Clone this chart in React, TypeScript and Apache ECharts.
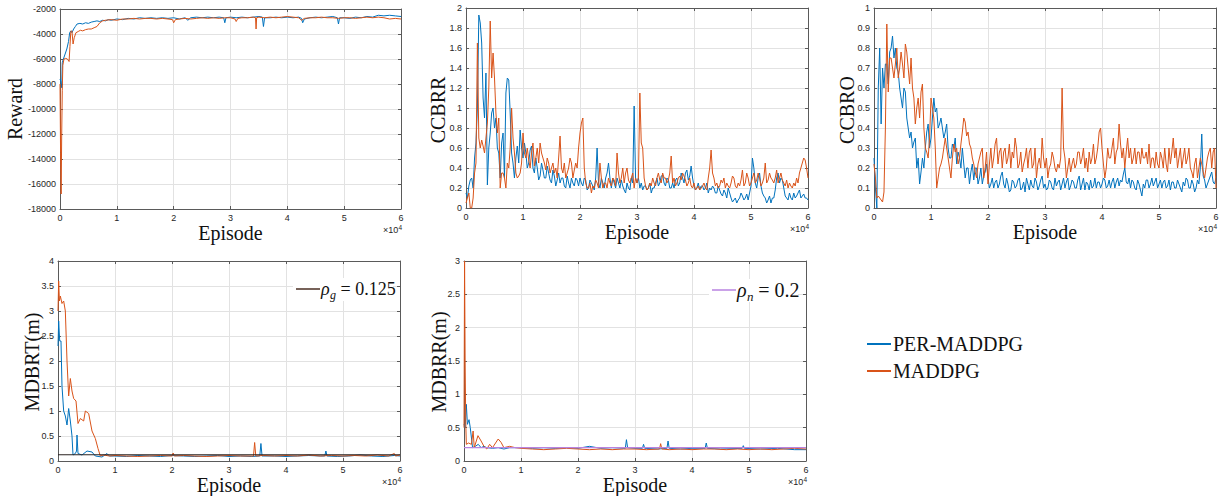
import React, { useEffect, useRef } from 'react';
import * as echarts from 'echarts';

const BLUE = '#0072BD';
const ORANGE = '#D95319';
const AXIS = '#5a5a5a';
const GRIDC = '#e2e2e2';
const STEP = 500; // episodes between samples of the uniform series (mid arrays sit half a step later)

const xTicks = [0, 10000, 20000, 30000, 40000, 50000, 60000];
const rewardTicks = [-18000, -16000, -14000, -12000, -10000, -8000, -6000, -4000, -2000];
const ccbrrTicks = [0, 0.2, 0.4, 0.6, 0.8, 1, 1.2, 1.4, 1.6, 1.8, 2];
const ccbroTicks = [0, 0.1, 0.2, 0.3, 0.4, 0.5, 0.6, 0.7, 0.8, 0.9, 1];
const mdbrtTicks = [0, 0.5, 1, 1.5, 2, 2.5, 3, 3.5, 4];
const mdbrrTicks = [0, 0.5, 1, 1.5, 2, 2.5, 3];

const rhoG = 0.125;
const rhoN = 0.2;

// Reward: [episode, value]
const rewardPer = [
  [0, -7600], [150, -7800], [300, -8300], [400, -6300], [600, -6000], [900, -5600], [1200, -5200], [1500, -4600],
  [1700, -3900], [1900, -3750], [2100, -3900], [2400, -3600], [2700, -3400], [3000, -3200], [3500, -3150], [4000, -3200],
  [4500, -3100], [5000, -3150], [5500, -3050], [6000, -3000], [6500, -2950], [7000, -3000], [7500, -2900], [8000, -2950],
  [8500, -2850], [9000, -2900], [9500, -2850], [10000, -2800], [11000, -2850], [12000, -2750], [13000, -2800], [14000, -2700],
  [15000, -2750], [16000, -2700], [17000, -2750], [18000, -2700], [19000, -2750], [20000, -2700], [21000, -2800], [22000, -2700],
  [22500, -2900], [23000, -2700], [24000, -2650], [25000, -2700], [26000, -2650], [27000, -2700], [28000, -2650], [28800, -2700],
  [29000, -3100], [29200, -2700], [30000, -2650], [31000, -2700], [32000, -2650], [33000, -2700], [34000, -2650], [35000, -2600],
  [35600, -2650], [35800, -3400], [36000, -2700], [37000, -2700], [38000, -2650], [39000, -2700], [40000, -2650], [41000, -2700],
  [42000, -2650], [42500, -2750], [42700, -3100], [43000, -2800], [44000, -2700], [45000, -2650], [46000, -2700], [47000, -2650],
  [48000, -2600], [48800, -2700], [49000, -3200], [49200, -2700], [50000, -2700], [51000, -2750], [52000, -2650], [53000, -2700],
  [54000, -2600], [55000, -2650], [56000, -2500], [57000, -2550], [58000, -2500], [59000, -2550], [60000, -2600],
];
const rewardMad = [
  [0, -8000], [100, -13500], [200, -16800], [300, -12000], [400, -8500], [500, -6500], [700, -6000], [1000, -5950],
  [1300, -6000], [1600, -6200], [1750, -5000], [1900, -3800], [2100, -3750], [2300, -4800], [2500, -4300], [2800, -3900],
  [3200, -3800], [3600, -3700], [4000, -3750], [4500, -3650], [5000, -3600], [5500, -3600], [6000, -3500], [6500, -3400],
  [7000, -3100], [7500, -2950], [8000, -2900], [9000, -2850], [10000, -2900], [11000, -2800], [12000, -2800], [13000, -2750],
  [14000, -2800], [15000, -2750], [16000, -2750], [17000, -2800], [18000, -2750], [19000, -2800], [19800, -2850], [20000, -3100],
  [20300, -2850], [21000, -2800], [22000, -2750], [23000, -2800], [24000, -2750], [25000, -2700], [26000, -2750], [27000, -2700],
  [28000, -2750], [29000, -2700], [30000, -2700], [30800, -2800], [31000, -3000], [31300, -2750], [32000, -2700], [33000, -2700],
  [34000, -2650], [34400, -2700], [34500, -3600], [34600, -2700], [35000, -2650], [36000, -2700], [37000, -2650], [38000, -2700],
  [39000, -2650], [40000, -2600], [41000, -2650], [42000, -2700], [42500, -2900], [43000, -2750], [44000, -2700], [45000, -2700],
  [46000, -2650], [47000, -2700], [48000, -2700], [49000, -2750], [50000, -2700], [51000, -2700], [52000, -2750], [53000, -2700],
  [54000, -2650], [55000, -2700], [56000, -2650], [57000, -2700], [58000, -2800], [59000, -2750], [60000, -2800],
];

// CCBRR, one value every STEP episodes, and the values half a step later
const ccbrrPer = [
  0.15, 0.22, 0.3, 0.5, 1.0, 1.85, 1.1, 1.35, 0.6, 0.95,
  0.8, 0.6, 0.3, 0.75, 1.15, 1.28, 0.55, 0.3, 0.62, 0.78,
  0.5, 0.55, 0.45, 0.62, 0.35, 0.4, 0.32, 0.38, 0.3, 0.35,
  0.25, 0.32, 0.28, 0.25, 0.3, 0.2, 0.25, 0.3, 0.22, 0.28,
  0.3, 0.22, 0.28, 0.2, 0.25, 0.18, 0.6, 0.2, 0.25, 0.3,
  0.45, 0.2, 0.25, 0.3, 0.2, 0.22, 0.15, 0.2, 0.3, 1.02,
  0.25, 0.2, 0.18, 0.22, 0.2, 0.15, 0.2, 0.3, 0.25, 0.33,
  0.22, 0.28, 0.2, 0.2, 0.3, 0.25, 0.3, 0.35, 0.28, 0.42,
  0.22, 0.2, 0.18, 0.22, 0.2, 0.15, 0.18, 0.2, 0.15, 0.18,
  0.12, 0.15, 0.2, 0.1, 0.08, 0.05, 0.1, 0.12, 0.1, 0.08,
  0.22, 0.4, 0.2, 0.35, 0.15, 0.1, 0.08, 0.05, 0.1, 0.3,
  0.25, 0.28, 0.12, 0.08, 0.1, 0.15, 0.12, 0.18, 0.12, 0.1,
  0.08,
];
const ccbrrPerMid = [
  0.1, 0.28, 0.2, 0.65, 1.93, 1.65, 0.9, 0.23, 0.75, 1.0,
  0.9, 0.55, 0.65, 0.3, 1.3, 0.95, 0.45, 0.5, 0.45, 0.6,
  0.65, 0.4, 0.58, 0.4, 0.5, 0.28, 0.45, 0.3, 0.42, 0.28,
  0.38, 0.22, 0.35, 0.3, 0.22, 0.32, 0.2, 0.25, 0.3, 0.22,
  0.25, 0.3, 0.18, 0.28, 0.22, 0.3, 0.25, 0.3, 0.2, 0.35,
  0.3, 0.3, 0.2, 0.25, 0.28, 0.18, 0.25, 0.18, 0.25, 0.3,
  0.3, 0.25, 0.22, 0.18, 0.25, 0.2, 0.25, 0.22, 0.32, 0.25,
  0.3, 0.2, 0.25, 0.28, 0.22, 0.35, 0.25, 0.38, 0.32, 0.3,
  0.18, 0.25, 0.22, 0.18, 0.25, 0.2, 0.22, 0.15, 0.22, 0.14,
  0.18, 0.1, 0.15, 0.06, 0.1, 0.08, 0.15, 0.08, 0.14, 0.15,
  0.5, 0.25, 0.3, 0.22, 0.12, 0.05, 0.12, 0.1, 0.18, 0.35,
  0.3, 0.2, 0.1, 0.15, 0.08, 0.1, 0.15, 0.1, 0.14, 0.1,
];
const ccbrrMad = [
  0.05, 0.15, 0.0, 0.35, 1.65, 0.6, 0.62, 0.7, 1.2, 1.3,
  1.3, 0.75, 0.2, 0.35, 0.2, 0.4, 1.0, 0.55, 0.3, 0.35,
  0.75, 0.5, 0.48, 0.55, 0.42, 0.6, 0.65, 0.5, 0.38, 0.45,
  0.4, 0.35, 0.3, 0.72, 0.35, 0.3, 0.4, 0.45, 0.38, 0.4,
  0.75, 0.9, 0.25, 0.2, 0.15, 0.2, 0.25, 0.45, 0.2, 0.25,
  0.3, 0.22, 0.28, 0.55, 0.25, 0.4, 0.35, 0.28, 0.3, 0.2,
  0.25, 1.15, 0.6, 0.22, 0.2, 0.22, 0.25, 0.3, 0.28, 0.35,
  0.3, 0.28, 0.52, 0.3, 0.25, 0.32, 0.35, 0.28, 0.25, 0.22,
  0.25, 0.2, 0.18, 0.22, 0.2, 0.3, 0.58, 0.3, 0.25, 0.22,
  0.25, 0.2, 0.22, 0.25, 0.3, 0.2, 0.22, 0.38, 0.25, 0.3,
  0.25, 0.35, 0.28, 0.3, 0.25, 0.45, 0.28, 0.3, 0.25, 0.38,
  0.3, 0.28, 0.22, 0.2, 0.22, 0.25, 0.3, 0.35, 0.45, 0.48,
  0.3,
];
const ccbrrMadMid = [
  0.1, 0.0, 0.1, 0.45, 0.7, 0.68, 0.55, 0.85, 1.87, 1.55,
  0.95, 0.9, 0.35, 0.3, 0.45, 0.6, 0.7, 0.35, 0.32, 0.45,
  0.55, 0.6, 0.4, 0.65, 0.5, 0.45, 0.55, 0.45, 0.5, 0.35,
  0.45, 0.4, 0.5, 0.4, 0.45, 0.35, 0.5, 0.3, 0.45, 0.6,
  0.85, 0.4, 0.2, 0.25, 0.22, 0.28, 0.2, 0.3, 0.25, 0.2,
  0.25, 0.3, 0.22, 0.35, 0.3, 0.25, 0.4, 0.25, 0.35, 0.3,
  0.3, 0.65, 0.3, 0.18, 0.25, 0.3, 0.22, 0.35, 0.25, 0.3,
  0.25, 0.35, 0.25, 0.22, 0.3, 0.28, 0.32, 0.22, 0.3, 0.2,
  0.18, 0.22, 0.2, 0.25, 0.18, 0.4, 0.35, 0.22, 0.2, 0.28,
  0.3, 0.25, 0.2, 0.32, 0.22, 0.25, 0.28, 0.22, 0.35, 0.22,
  0.3, 0.25, 0.35, 0.22, 0.3, 0.25, 0.35, 0.28, 0.3, 0.25,
  0.35, 0.25, 0.28, 0.25, 0.2, 0.22, 0.25, 0.4, 0.5, 0.4,
];

// CCBRO, one value every STEP episodes, and the values half a step later
const ccbroPer = [
  0.25, 0.0, 0.8, 0.7, 0.72, 0.62, 0.8, 0.75, 0.7, 0.6,
  0.5, 0.58, 0.4, 0.38, 0.33, 0.2, 0.12, 0.25, 0.3, 0.42,
  0.35, 0.55, 0.5, 0.42, 0.4, 0.38, 0.3, 0.25, 0.3, 0.22,
  0.25, 0.3, 0.15, 0.2, 0.18, 0.14, 0.2, 0.15, 0.12, 0.18,
  0.15, 0.12, 0.1, 0.14, 0.12, 0.18, 0.1, 0.12, 0.09, 0.13,
  0.11, 0.15, 0.1, 0.08, 0.12, 0.14, 0.1, 0.13, 0.11, 0.16,
  0.12, 0.1, 0.13, 0.09, 0.11, 0.14, 0.12, 0.1, 0.15, 0.11,
  0.13, 0.1, 0.16, 0.12, 0.09, 0.12, 0.14, 0.11, 0.1, 0.13,
  0.12, 0.14, 0.11, 0.1, 0.15, 0.13, 0.11, 0.13, 0.2, 0.12,
  0.1, 0.13, 0.09, 0.12, 0.06, 0.1, 0.14, 0.12, 0.11, 0.15,
  0.12, 0.1, 0.14, 0.11, 0.09, 0.13, 0.1, 0.12, 0.08, 0.11,
  0.14, 0.1, 0.12, 0.1, 0.12, 0.37, 0.14, 0.12, 0.16, 0.13,
  0.15,
];
const ccbroPerMid = [
  0.1, 0.6, 0.42, 0.6, 0.72, 0.78, 0.86, 0.8, 0.68, 0.55,
  0.6, 0.45, 0.35, 0.3, 0.35, 0.25, 0.18, 0.2, 0.38, 0.3,
  0.45, 0.48, 0.4, 0.45, 0.35, 0.42, 0.25, 0.32, 0.35, 0.28,
  0.2, 0.22, 0.2, 0.12, 0.22, 0.2, 0.12, 0.2, 0.16, 0.22,
  0.1, 0.15, 0.13, 0.1, 0.16, 0.12, 0.15, 0.08, 0.14, 0.1,
  0.14, 0.09, 0.13, 0.15, 0.09, 0.11, 0.15, 0.09, 0.14, 0.1,
  0.09, 0.14, 0.1, 0.15, 0.13, 0.09, 0.15, 0.13, 0.09, 0.14,
  0.1, 0.14, 0.09, 0.15, 0.13, 0.09, 0.1, 0.15, 0.13, 0.1,
  0.15, 0.1, 0.14, 0.13, 0.1, 0.15, 0.14, 0.17, 0.13, 0.15,
  0.14, 0.1, 0.14, 0.09, 0.12, 0.14, 0.1, 0.15, 0.13, 0.1,
  0.14, 0.13, 0.1, 0.14, 0.13, 0.1, 0.14, 0.1, 0.13, 0.15,
  0.1, 0.14, 0.08, 0.14, 0.2, 0.16, 0.1, 0.14, 0.18, 0.12,
];
const ccbroMad = [
  0.22, 0.05, 0.05, 0.03, 0.4, 0.58, 0.75, 0.65, 0.8, 0.7,
  0.72, 0.82, 0.7, 0.75, 0.55, 0.5, 0.45, 0.62, 0.3, 0.25,
  0.55, 0.45, 0.1, 0.2, 0.25, 0.35, 0.25, 0.15, 0.32, 0.3,
  0.25, 0.38, 0.43, 0.38, 0.3, 0.22, 0.15, 0.25, 0.3, 0.2,
  0.12, 0.3, 0.25, 0.35, 0.28, 0.2, 0.3, 0.25, 0.2, 0.25,
  0.3, 0.22, 0.18, 0.25, 0.2, 0.3, 0.22, 0.15, 0.25, 0.35,
  0.2, 0.15, 0.22, 0.25, 0.18, 0.2, 0.6, 0.25, 0.2, 0.18,
  0.25, 0.22, 0.28, 0.25, 0.2, 0.18, 0.22, 0.32, 0.25, 0.38,
  0.3, 0.15, 0.3, 0.25, 0.35, 0.28, 0.42, 0.25, 0.2, 0.35,
  0.3, 0.25, 0.22, 0.28, 0.3, 0.25, 0.22, 0.2, 0.25, 0.28,
  0.2, 0.25, 0.3, 0.18, 0.22, 0.35, 0.3, 0.25, 0.2, 0.3,
  0.25, 0.2, 0.15, 0.25, 0.2, 0.22, 0.15, 0.25, 0.3, 0.28,
  0.1,
];
const ccbroMadMid = [
  0.15, 0.06, 0.04, 0.08, 0.92, 0.75, 0.7, 0.72, 0.65, 0.78,
  0.65, 0.78, 0.62, 0.6, 0.42, 0.55, 0.58, 0.4, 0.28, 0.35,
  0.5, 0.3, 0.15, 0.22, 0.3, 0.3, 0.2, 0.25, 0.28, 0.22,
  0.32, 0.45, 0.36, 0.32, 0.25, 0.18, 0.22, 0.28, 0.15, 0.28,
  0.22, 0.2, 0.32, 0.22, 0.3, 0.28, 0.22, 0.32, 0.28, 0.35,
  0.2, 0.28, 0.22, 0.3, 0.28, 0.2, 0.3, 0.22, 0.2, 0.25,
  0.25, 0.2, 0.28, 0.2, 0.22, 0.25, 0.3, 0.15, 0.25, 0.22,
  0.2, 0.28, 0.22, 0.3, 0.25, 0.28, 0.25, 0.22, 0.3, 0.4,
  0.22, 0.2, 0.25, 0.3, 0.22, 0.3, 0.32, 0.3, 0.28, 0.25,
  0.22, 0.3, 0.28, 0.22, 0.25, 0.28, 0.32, 0.25, 0.2, 0.22,
  0.28, 0.2, 0.22, 0.3, 0.28, 0.25, 0.2, 0.3, 0.25, 0.22,
  0.3, 0.18, 0.22, 0.15, 0.25, 0.18, 0.2, 0.28, 0.2, 0.3,
];

// MDBRT: [episode, value]
const mdbrtPer = [
  [0, 2.3], [120, 2.8], [300, 2.4], [526, 2.4], [700, 1.5], [994, 1.0], [1287, 0.9], [1579, 0.72],
  [1871, 1.05], [2164, 0.8], [2456, 0.5], [2632, 0.12], [3041, 0.15], [3250, 0.2], [3333, 0.52], [3509, 0.15],
  [4210, 0.12], [5088, 0.2], [5965, 0.18], [6550, 0.1], [7719, 0.08], [8596, 0.15], [9000, 0.1], [10000, 0.1],
  [12000, 0.09], [14000, 0.11], [16000, 0.1], [18000, 0.09], [20000, 0.11], [22000, 0.1], [24000, 0.09], [26000, 0.1],
  [28000, 0.11], [30000, 0.09], [32000, 0.1], [34000, 0.09], [35400, 0.1], [35600, 0.35], [35800, 0.1], [38000, 0.1],
  [40000, 0.09], [42000, 0.1], [44000, 0.11], [46000, 0.1], [46800, 0.1], [47000, 0.2], [47200, 0.1], [49000, 0.09],
  [51000, 0.1], [53000, 0.12], [55000, 0.1], [57000, 0.09], [59000, 0.11], [60000, 0.1],
];
const mdbrtMad = [
  [0, 3.0], [117, 3.6], [250, 3.2], [409, 3.3], [700, 3.15], [994, 3.2], [1287, 3.0], [1579, 2.0],
  [1871, 1.3], [2164, 1.65], [2456, 1.4], [2749, 1.25], [3158, 1.2], [3509, 0.75], [3918, 0.85], [4503, 0.8],
  [4795, 1.0], [5380, 0.95], [5965, 0.6], [6550, 0.45], [7018, 0.25], [7427, 0.1], [8000, 0.12], [9000, 0.1],
  [10000, 0.11], [12000, 0.1], [14000, 0.09], [16000, 0.1], [18000, 0.11], [20000, 0.1], [20200, 0.16], [20400, 0.1],
  [22000, 0.11], [24000, 0.1], [26000, 0.09], [28000, 0.1], [30000, 0.11], [32000, 0.1], [34300, 0.1], [34500, 0.37],
  [34700, 0.1], [36000, 0.11], [38000, 0.1], [40000, 0.11], [42000, 0.1], [44000, 0.12], [46000, 0.1], [48000, 0.11],
  [50000, 0.1], [52000, 0.11], [54000, 0.1], [56000, 0.12], [58000, 0.1], [59000, 0.15], [59200, 0.1], [60000, 0.12],
];

// MDBRR: [episode, value]
const mdbrrPer = [
  [0, 0.55], [200, 0.5], [409, 0.85], [600, 0.55], [880, 0.62], [1100, 0.5], [1500, 0.2], [2000, 0.22],
  [2500, 0.25], [3000, 0.2], [3500, 0.22], [4000, 0.2], [5000, 0.19], [6000, 0.2], [7000, 0.18], [8000, 0.2],
  [10000, 0.2], [12000, 0.19], [14000, 0.2], [16000, 0.19], [18000, 0.2], [20000, 0.19], [22000, 0.22], [24000, 0.19],
  [26000, 0.2], [28300, 0.19], [28500, 0.32], [28700, 0.2], [30000, 0.19], [31300, 0.19], [31500, 0.25], [31700, 0.19],
  [34000, 0.18], [35600, 0.19], [35800, 0.3], [36000, 0.19], [38000, 0.18], [40000, 0.19], [42300, 0.19], [42500, 0.27],
  [42700, 0.19], [45000, 0.18], [48800, 0.19], [49000, 0.23], [49200, 0.19], [52000, 0.18], [55000, 0.19], [58000, 0.17],
  [60000, 0.17],
];
const mdbrrMad = [
  [0, 0.5], [100, 3.0], [200, 1.5], [300, 0.6], [409, 0.25], [800, 0.27], [1300, 0.25], [1600, 0.45],
  [1800, 0.2], [2450, 0.38], [3000, 0.3], [3500, 0.22], [4000, 0.18], [4500, 0.25], [5000, 0.2], [6000, 0.33],
  [6500, 0.28], [7000, 0.2], [8000, 0.22], [9000, 0.2], [10000, 0.19], [12000, 0.18], [14000, 0.17], [16000, 0.18],
  [18000, 0.19], [20000, 0.18], [22000, 0.17], [24000, 0.18], [26000, 0.17], [28000, 0.18], [30000, 0.18], [32000, 0.17],
  [34300, 0.18], [34500, 0.26], [34700, 0.18], [36000, 0.17], [38000, 0.18], [40000, 0.17], [42000, 0.18], [44000, 0.18],
  [46000, 0.17], [48000, 0.18], [50000, 0.17], [52000, 0.18], [54000, 0.17], [56000, 0.18], [58000, 0.19], [60000, 0.18],
];

// pair each sample with its episode: main samples at i*STEP, mid samples at i*STEP + STEP/2
const interleave = (main: number[], mid: number[]) => {
  const out: number[][] = [];
  main.forEach((v, i) => {
    out.push([i * STEP, v]);
    if (i < mid.length) out.push([i * STEP + STEP / 2, mid[i]]);
  });
  return out;
};

const panels = [
  { box: { left: 60, top: 9, width: 341, height: 200 }, ticks: rewardTicks, per: rewardPer, mad: rewardMad, title: 'Reward', tx: 15, ty: 109 },
  { box: { left: 466, top: 8, width: 342, height: 200 }, ticks: ccbrrTicks, per: interleave(ccbrrPer, ccbrrPerMid), mad: interleave(ccbrrMad, ccbrrMadMid), title: 'CCBRR', tx: 438, ty: 110 },
  { box: { left: 874, top: 8, width: 342, height: 200 }, ticks: ccbroTicks, per: interleave(ccbroPer, ccbroPerMid), mad: interleave(ccbroMad, ccbroMadMid), title: 'CCBRO', tx: 847, ty: 110 },
  { box: { left: 58, top: 261, width: 342, height: 200 }, ticks: mdbrtTicks, per: mdbrtPer, mad: mdbrtMad, title: 'MDBRT(m)', tx: 32, ty: 362 },
  { box: { left: 464, top: 261, width: 342, height: 200 }, ticks: mdbrrTicks, per: mdbrrPer, mad: mdbrrMad, title: 'MDBRR(m)', tx: 439, ty: 362 },
];

const fmt = (v: number) => String(Math.round(v * 1000) / 1000);
const SERIF = '"Liberation Serif", "Times New Roman", serif';

function mathLegend(x: number, y: number, color: string, sub: string, value: number, size: number, boxW: number) {
  const rhoW = size * 0.5;
  const subW = size * 0.36;
  return [
    { type: 'rect', z: 50, shape: { x: x - 3, y: y - 11, width: boxW, height: 23 }, style: { fill: '#ffffff' } },
    { type: 'line', z: 51, shape: { x1: x, y1: y, x2: x + 24, y2: y }, style: { stroke: color, lineWidth: 1.5 } },
    { type: 'text', z: 51, x: x + 25, y, style: { text: 'ρ', font: `italic ${size}px ${SERIF}`, fill: '#111', align: 'left', verticalAlign: 'middle', lineHeight: size } },
    { type: 'text', z: 51, x: x + 25 + rhoW, y: y + size * 0.32, style: { text: sub, font: `italic ${Math.round(size * 0.66)}px ${SERIF}`, fill: '#111', align: 'left', verticalAlign: 'middle', lineHeight: Math.round(size * 0.66) } },
    { type: 'text', z: 51, x: x + 25 + rhoW + subW + 4, y, style: { text: `= ${value}`, font: `${size}px ${SERIF}`, fill: '#111', align: 'left', verticalAlign: 'middle', lineHeight: size } },
  ];
}

function buildOption() {
  const grid: any[] = [];
  const xAxis: any[] = [];
  const yAxis: any[] = [];
  const series: any[] = [];
  const graphic: any[] = [];
  const tickLabel = { fontSize: 9, fontFamily: 'Liberation Sans, Arial, sans-serif', color: '#262626', lineHeight: 10 };

  panels.forEach((p, i) => {
    grid.push({ ...p.box, containLabel: false });
    const xmin = xTicks[0];
    const xmax = xTicks[xTicks.length - 1];
    const xint = xTicks[1] - xTicks[0];
    const ymin = p.ticks[0];
    const ymax = p.ticks[p.ticks.length - 1];
    const yint = p.ticks[1] - p.ticks[0];
    const line = { show: true, onZero: false, lineStyle: { color: AXIS, width: 1 } };
    const tick = { show: true, inside: true, length: 3, lineStyle: { color: AXIS, width: 1 } };
    xAxis.push({
      type: 'value', gridIndex: i, min: xmin, max: xmax, interval: xint,
      axisLine: line, axisTick: tick,
      axisLabel: { ...tickLabel, margin: 4, formatter: (v: number) => fmt(v / 10000) },
      splitLine: { show: true, lineStyle: { color: GRIDC, width: 1 } },
    });
    xAxis.push({
      type: 'value', gridIndex: i, position: 'top', min: xmin, max: xmax, interval: xint,
      axisLine: line, axisTick: tick, axisLabel: { show: false }, splitLine: { show: false },
    });
    yAxis.push({
      type: 'value', gridIndex: i, min: ymin, max: ymax, interval: yint,
      axisLine: line, axisTick: tick,
      axisLabel: { ...tickLabel, margin: 4, formatter: (v: number) => fmt(v) },
      splitLine: { show: true, lineStyle: { color: GRIDC, width: 1 } },
    });
    yAxis.push({
      type: 'value', gridIndex: i, position: 'right', min: ymin, max: ymax, interval: yint,
      axisLine: line, axisTick: tick, axisLabel: { show: false }, splitLine: { show: false },
    });
    series.push({
      type: 'line', name: 'PER-MADDPG', xAxisIndex: 2 * i, yAxisIndex: 2 * i, data: p.per,
      showSymbol: false, symbol: 'none', silent: true, clip: true,
      lineStyle: { width: 1, color: BLUE }, itemStyle: { color: BLUE },
    });
    series.push({
      type: 'line', name: 'MADDPG', xAxisIndex: 2 * i, yAxisIndex: 2 * i, data: p.mad,
      showSymbol: false, symbol: 'none', silent: true, clip: true,
      lineStyle: { width: 1, color: ORANGE }, itemStyle: { color: ORANGE },
    });

    const b = p.box;
    graphic.push({
      type: 'text', x: b.left + b.width / 2, y: b.top + b.height + 24,
      style: { text: 'Episode', font: `20px ${SERIF}`, fill: '#111', align: 'center', verticalAlign: 'middle', lineHeight: 16 },
    });
    graphic.push({
      type: 'text', x: p.tx, y: p.ty, rotation: Math.PI / 2,
      style: { text: p.title, font: `20px ${SERIF}`, fill: '#111', align: 'center', verticalAlign: 'middle', lineHeight: 16 },
    });
    graphic.push({
      type: 'text', x: b.left + b.width + 1, y: b.top + b.height + 21,
      style: {
        text: '×10{s|4}', font: '9px "Liberation Sans", Arial, sans-serif', fill: '#262626', align: 'right', verticalAlign: 'middle',
        rich: { s: { fontSize: 6.5, fontFamily: 'Liberation Sans', fill: '#262626', verticalAlign: 'top', padding: [0, 0, 5, 0] } },
      },
    });
  });

  series.push({
    type: 'line', name: 'rho_g', xAxisIndex: 6, yAxisIndex: 6,
    data: [[xTicks[0], rhoG], [xTicks[xTicks.length - 1], rhoG]],
    showSymbol: false, symbol: 'none', silent: true, lineStyle: { width: 1.2, color: '#2b2320' }, z: 5,
  });
  series.push({
    type: 'line', name: 'rho_n', xAxisIndex: 8, yAxisIndex: 8,
    data: [[xTicks[0], rhoN], [xTicks[xTicks.length - 1], rhoN]],
    showSymbol: false, symbol: 'none', silent: true, lineStyle: { width: 1.2, color: '#b983e0' }, z: 5,
  });

  graphic.push(...mathLegend(296, 289, '#4a2e22', 'g', rhoG, 18, 100));
  graphic.push(...mathLegend(712, 290, '#b983e0', 'n', rhoN, 20, 89));

  return {
    animation: false,
    backgroundColor: '#ffffff',
    grid, xAxis, yAxis, series, graphic,
    legend: {
      data: ['PER-MADDPG', 'MADDPG'], orient: 'vertical', left: 867, top: 334, padding: 0,
      itemWidth: 24, itemHeight: 2, icon: 'rect', itemGap: 7,
      textStyle: { fontFamily: 'Liberation Serif', fontSize: 20, color: '#111', padding: [0, 0, 0, -3] },
    },
  };
}

export default function App() {
  const ref = useRef<HTMLDivElement>(null);
  useEffect(() => {
    if (!ref.current) return;
    const chart = echarts.init(ref.current, undefined, { renderer: 'svg' });
    chart.setOption(buildOption() as any);
    return () => chart.dispose();
  }, []);
  return <div ref={ref} style={{ position: 'fixed', left: 0, top: 0, width: 1225, height: 496 }} />;
}
